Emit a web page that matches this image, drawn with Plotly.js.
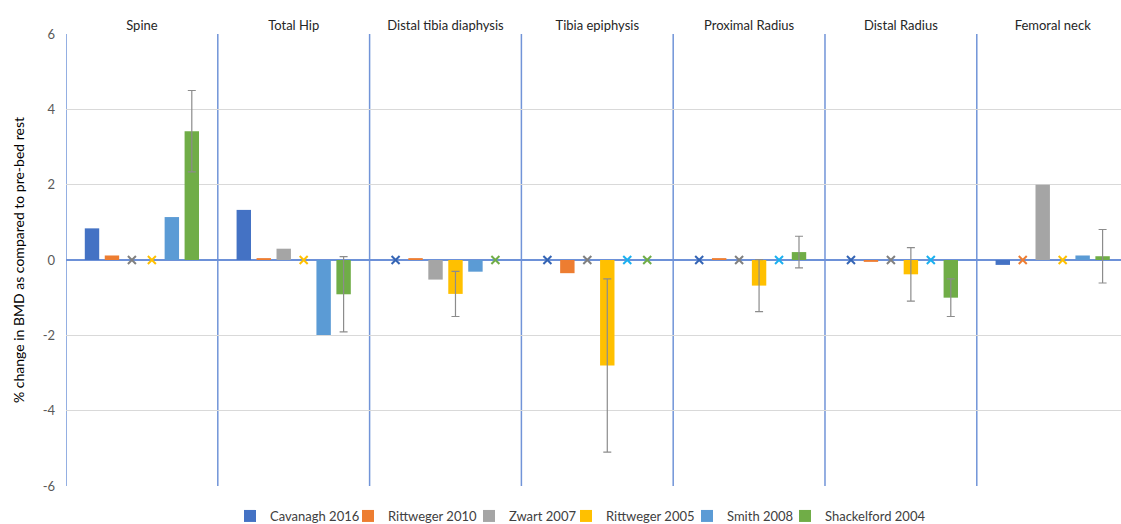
<!DOCTYPE html>
<html><head><meta charset="utf-8">
<script src="https://cdn.plot.ly/plotly-3.0.1.min.js"></script>
<style>html,body{margin:0;padding:0;background:#fff}#chart{width:1121px;height:524px}</style>
</head><body><div id="chart"></div>
<script>
// ---- data ----
const categories = ['Spine', 'Total Hip', 'Distal tibia diaphysis', 'Tibia epiphysis', 'Proximal Radius', 'Distal Radius', 'Femoral neck'];
const seriesNames = ['Cavanagh 2016', 'Rittweger 2010', 'Zwart 2007', 'Rittweger 2005', 'Smith 2008', 'Shackelford 2004'];
// null = not measured (drawn as an "x" on the zero line)
const cavanagh2016    = [0.84, 1.33, null, null, null, null, -0.13];
const rittweger2010   = [0.12, 0.05, 0.05, -0.35, 0.05, -0.05, null];
const zwart2007       = [null, 0.30, -0.52, null, null, null, 2.00];
const rittweger2005   = [null, null, -0.90, -2.80, -0.68, -0.38, null];
const smith2008       = [1.14, -1.99, -0.31, null, null, null, 0.12];
const shackelford2004 = [3.42, -0.91, null, null, 0.21, -1.00, 0.10];
// error bar half-widths
const cavanagh2016Err    = [null, null, null, null, null, null, null];
const rittweger2010Err   = [null, null, null, null, null, null, null];
const zwart2007Err       = [null, null, null, null, null, null, null];
const rittweger2005Err   = [null, null, 0.60, 2.30, 0.69, 0.71, null];
const smith2008Err       = [null, null, null, null, null, null, null];
const shackelford2004Err = [1.08, 1.00, null, null, 0.42, 0.50, 0.71];
const yTicks = [-6, -4, -2, 0, 2, 4, 6];

// ---- styles ----
const seriesValues = [cavanagh2016, rittweger2010, zwart2007, rittweger2005, smith2008, shackelford2004];
const seriesErrors = [cavanagh2016Err, rittweger2010Err, zwart2007Err, rittweger2005Err, smith2008Err, shackelford2004Err];
const barColors = ['#4472C4', '#ED7D31', '#A5A5A5', '#FFC000', '#5B9BD5', '#70AD47'];
const crossColors = ['#3464B4', '#ED7D31', '#808080', '#FFC000', '#1AB0F0', '#70AD47'];
const legendX = [230, 348, 469, 566, 687, 785];
const step = 0.1315, barW = 0.095;
const FONT = 'Lato, "Liberation Sans", sans-serif';

const traces = [];
const layout = {
  width: 1121, height: 524, autosize: false,
  margin: {l: 66, r: 0, t: 34, b: 38},
  paper_bgcolor: '#fff', plot_bgcolor: '#fff',
  font: {family: FONT, size: 13, color: '#404040'},
  barmode: 'overlay',
  xaxis: {
    range: [-0.5, 6.45], side: 'top', tickvals: categories.map((c, i) => i), ticktext: categories,
    showgrid: false, zeroline: false, showline: false, ticks: '', fixedrange: true,
    tickfont: {family: FONT, size: 13, color: '#262626'}
  },
  yaxis: {
    range: [-6, 6], tickvals: yTicks, ticktext: yTicks.map(String),
    showgrid: true, gridcolor: '#d9d9d9', gridwidth: 1,
    zeroline: true, zerolinecolor: '#6d91d8', zerolinewidth: 1.5,
    showline: false, ticks: '', ticklabelstandoff: 10,
    tickfont: {family: FONT, size: 13, color: '#595959'},
    title: {text: '% change in BMD as compared to pre-bed rest', font: {family: FONT, size: 14, color: '#000'}, standoff: 14}
  },
  shapes: [],
  showlegend: true
};

for (let i = 0; i <= categories.length; i++) {
  layout.shapes.push({type: 'line', xref: 'x', yref: 'paper', x0: i - 0.5, x1: i - 0.5, y0: 0, y1: 1,
    line: {color: '#7194d8', width: 1.5}, layer: 'below'});
}

seriesNames.forEach((name, j) => {
  const xs = categories.map((c, i) => i + (j - 2.5) * step);
  const vals = seriesValues[j];
  const errs = seriesErrors[j];
  const hasErr = errs.some(v => v !== null);
  const legId = j === 0 ? 'legend' : 'legend' + (j + 1);
  traces.push({
    type: 'bar', name: name, x: xs, y: vals, width: barW,
    marker: {color: barColors[j], line: {width: 0}},
    error_y: {type: 'data', array: errs, visible: hasErr, color: '#8c8c8c', thickness: 1.2, width: 4},
    legend: legId, hoverinfo: 'name+y'
  });
  const mx = [], my = [];
  vals.forEach((v, i) => { if (v === null) { mx.push(xs[i]); my.push(0); } });
  traces.push({
    type: 'scatter', mode: 'markers', x: mx, y: my, showlegend: false, hoverinfo: 'skip',
    marker: {symbol: 'x-thin', size: 8, line: {color: crossColors[j], width: 2}}
  });
  layout[legId] = {
    orientation: 'h', xref: 'container', yref: 'container', x: legendX[j] / 1121, y: 8 / 524,
    xanchor: 'left', yanchor: 'middle', bgcolor: 'rgba(0,0,0,0)', borderwidth: 0,
    font: {family: FONT, size: 13, color: '#404040'}, itemclick: false, itemdoubleclick: false
  };
});

Plotly.newPlot('chart', traces, layout, {displayModeBar: false, staticPlot: true});
</script>
</body></html>
